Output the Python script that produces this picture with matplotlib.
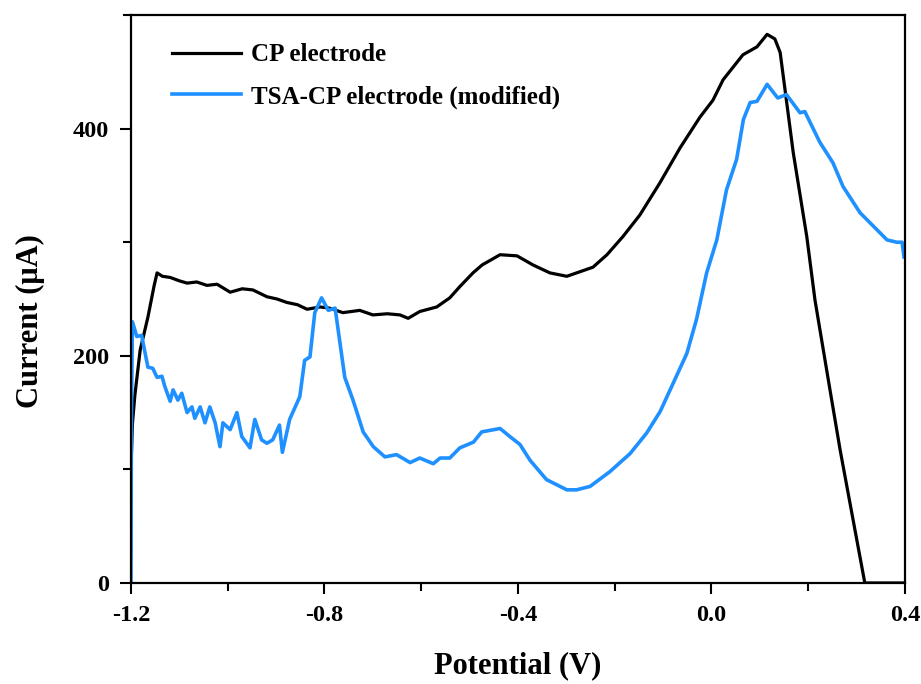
import numpy as np
import matplotlib
matplotlib.use('Agg')
import matplotlib.pyplot as plt
from matplotlib.ticker import MultipleLocator


# CP electrode (black)
cp_potential = [-1.2, -1.197, -1.192, -1.181, -1.165, -1.152, -1.146, -1.135, -1.119, -1.100,
                -1.084, -1.064, -1.043, -1.022, -0.995, -0.970, -0.948, -0.919, -0.898, -0.878,
                -0.856, -0.836, -0.809, -0.790, -0.762, -0.727, -0.700, -0.670, -0.644, -0.627,
                -0.603, -0.568, -0.541, -0.520, -0.493, -0.474, -0.437, -0.402, -0.369, -0.334,
                -0.299, -0.272, -0.245, -0.216, -0.183, -0.148, -0.107, -0.065, -0.024, 0.003,
                0.024, 0.065, 0.094, 0.115, 0.131, 0.142, 0.169, 0.197, 0.214, 0.245,
                0.266, 0.293, 0.317, 0.4]
cp_current = [100, 140, 165, 205, 234, 262, 273, 270, 269, 266,
              264, 265, 262, 263, 256, 259, 258, 252, 250, 247,
              245, 241, 243, 242, 238, 240, 236, 237, 236, 233,
              239, 243, 251, 261, 273, 280, 289, 288, 280, 273,
              270, 274, 278, 289, 305, 324, 352, 383, 410, 425,
              443, 465, 472, 483, 479, 467, 379, 305, 249, 170,
              117, 55, 0, 0]

# TSA-CP electrode (blue)
tsa_potential = [-1.2, -1.199, -1.197, -1.188, -1.178, -1.165, -1.155, -1.146, -1.136, -1.130,
                 -1.119, -1.113, -1.103, -1.095, -1.084, -1.074, -1.068, -1.057, -1.047, -1.037,
                 -1.026, -1.016, -1.010, -0.995, -0.981, -0.971, -0.954, -0.944, -0.930, -0.919,
                 -0.907, -0.893, -0.887, -0.872, -0.851, -0.841, -0.830, -0.820, -0.806, -0.792,
                 -0.778, -0.758, -0.741, -0.720, -0.699, -0.675, -0.651, -0.623, -0.603, -0.575,
                 -0.561, -0.541, -0.520, -0.492, -0.475, -0.437, -0.417, -0.396, -0.375, -0.341,
                 -0.299, -0.279, -0.251, -0.210, -0.168, -0.134, -0.106, -0.079, -0.051, -0.031,
                 -0.010, 0.011, 0.031, 0.052, 0.066, 0.080, 0.094, 0.115, 0.137, 0.155,
                 0.183, 0.193, 0.224, 0.251, 0.272, 0.307, 0.342, 0.363, 0.383, 0.394,
                 0.398]
tsa_current = [0, 150, 230, 217, 218, 190, 189, 181, 182, 173,
               160, 170, 161, 167, 150, 155, 145, 155, 141, 155,
               141, 120, 141, 135, 150, 129, 119, 144, 126, 123,
               126, 139, 115, 144, 164, 196, 199, 238, 251, 240,
               242, 181, 161, 133, 120, 111, 113, 106, 110, 105,
               110, 110, 119, 124, 133, 136, 129, 122, 108, 91,
               82, 82, 85, 98, 114, 132, 151, 176, 202, 232,
               273, 302, 346, 373, 408, 423, 424, 439, 427, 430,
               414, 415, 388, 370, 349, 326, 311, 302, 300, 300,
               287]

x_ticks = [-1.2, -0.8, -0.4, 0.0, 0.4]
y_ticks = [0, 200, 400]

plt.rcParams['font.family'] = ['Liberation Serif', 'DejaVu Serif']
plt.rcParams['font.weight'] = 'bold'

fig = plt.figure(figsize=(9.21, 6.84), dpi=100)
ax = fig.add_axes([0.1422, 0.1477, 0.8404, 0.8303])

ax.plot(cp_potential, cp_current, color='black', linewidth=2.3, label='CP electrode')
ax.plot(tsa_potential, tsa_current, color='#1E90FF', linewidth=2.6, label='TSA-CP electrode (modified)')

ax.set_xlim(-1.2, 0.4)
ax.set_ylim(0, 500)
ax.set_xticks(x_ticks)
ax.set_xticklabels(['%.1f' % v for v in x_ticks])
ax.set_yticks(y_ticks)
ax.xaxis.set_minor_locator(MultipleLocator(0.2))
ax.yaxis.set_minor_locator(MultipleLocator(100))

ax.tick_params(which='major', direction='out', length=8, width=1.5, labelsize=17.5, pad=8)
ax.tick_params(which='minor', direction='out', length=5.5, width=1.5)
for lbl in ax.get_xticklabels() + ax.get_yticklabels():
    lbl.set_fontweight('bold')
for s in ax.spines.values():
    s.set_linewidth(1.6)

ax.set_xlabel('Potential (V)', fontsize=22, fontweight='bold', labelpad=18)
ax.set_ylabel('Current (\u03bcA)', fontsize=22, fontweight='bold')
ax.yaxis.set_label_coords(-0.111, 0.461)

ax.legend(loc='upper left', bbox_to_anchor=(0.053, 0.95), frameon=False,
          borderpad=0, borderaxespad=0, handlelength=2.75, handletextpad=0.4,
          labelspacing=0.75, prop={'size': 18, 'weight': 'bold'})

fig.savefig('out.png', dpi=100)
